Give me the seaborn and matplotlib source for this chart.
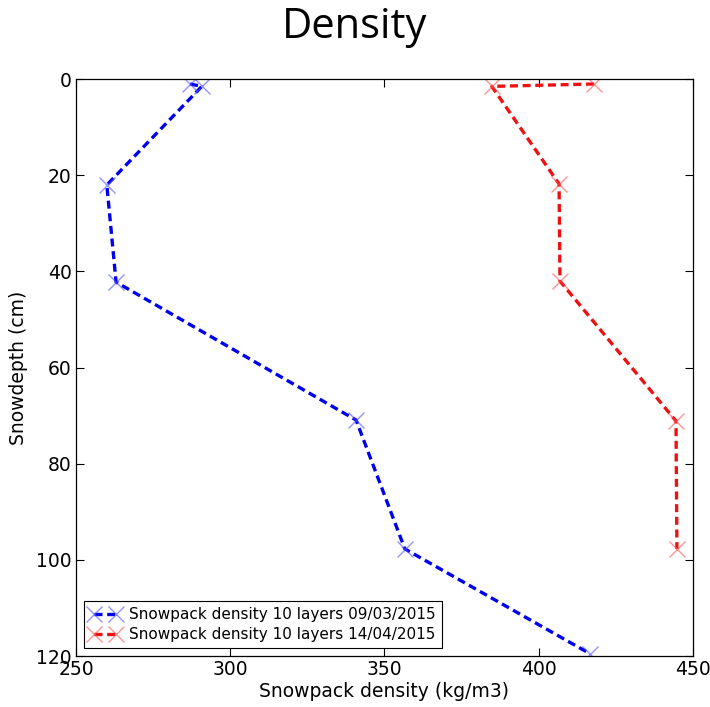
import matplotlib
matplotlib.use("Agg")
import matplotlib.pyplot as plt
import seaborn as sns
import pandas as pd

# Data
depth_a = [1.0, 1.5, 22.0, 42.2, 70.9, 97.7, 119.5]
density_a = [287.0, 290.8, 260.0, 263.0, 340.8, 356.6, 416.6]
depth_b = [1.0, 1.5, 21.8, 42.0, 71.1, 97.7]
density_b = [417.9, 384.8, 406.6, 406.9, 444.5, 444.8]
label_a = "Snowpack density 10 layers 09/03/2015"
label_b = "Snowpack density 10 layers 14/04/2015"
x_ticks = [250, 300, 350, 400, 450]
y_ticks = [0, 20, 40, 60, 80, 100, 120]

sns.set_style("ticks", {"xtick.direction": "in", "ytick.direction": "in"})
plt.rcParams["font.family"] = ["DejaVu Sans"]
plt.rcParams["text.color"] = "black"
plt.rcParams["axes.labelcolor"] = "black"

fig = plt.figure(figsize=(7.1, 7.07), dpi=100)
ax = fig.add_axes([0.107, 0.072, 0.869, 0.816])

df_a = pd.DataFrame({"density": density_a, "depth": depth_a})
df_b = pd.DataFrame({"density": density_b, "depth": depth_b})

common = dict(sort=False, estimator=None, marker="x", markersize=11,
              markeredgewidth=1.0, linewidth=2.4, ax=ax)
sns.lineplot(data=df_a, x="density", y="depth", color="#0000ee",
             label=label_a, markeredgecolor=(0.3, 0.3, 1.0, 0.6),
             **common)
sns.lineplot(data=df_b, x="density", y="depth", color="#ee1111",
             label=label_b, markeredgecolor=(1.0, 0.3, 0.3, 0.6),
             **common)
for l in ax.get_lines():
    l.set_linestyle((0, (2.4, 1.4)))

ax.set_xlim(250, 450)
ax.set_ylim(120, 0)
ax.set_xticks(x_ticks)
ax.set_yticks(y_ticks)
ax.tick_params(axis="both", which="major", labelsize=13.5, length=6, width=0.8,
               top=True, right=True, pad=3, colors="black")
for s in ax.spines.values():
    s.set_visible(True)
    s.set_linewidth(0.9)
    s.set_color("black")
ax.set_xlabel("Snowpack density (kg/m3)", fontsize=13.5, labelpad=2)
ax.set_ylabel("Snowdepth (cm)", fontsize=13.5, labelpad=6)

leg = ax.legend(loc="lower left", numpoints=2, fontsize=11, frameon=True,
                fancybox=False, edgecolor="black", framealpha=1,
                borderaxespad=0.5, handlelength=2.0, handletextpad=0.6,
                borderpad=0.4, labelspacing=0.35)
leg.get_frame().set_linewidth(0.8)
for t in leg.get_texts():
    t.set_color("black")

fig.text(0.5, 0.962, "Density", ha="center", va="center", fontsize=30,
         color="black", family=["Open Sans", "DejaVu Sans"])

fig.savefig("out.png", dpi=100)
